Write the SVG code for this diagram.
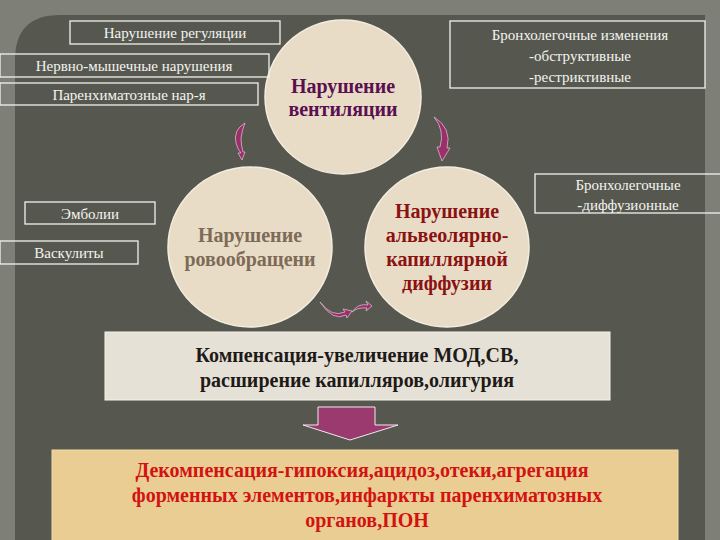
<svg xmlns="http://www.w3.org/2000/svg" width="720" height="540" viewBox="0 0 720 540">
<style>
.lb{fill:none;stroke:#f2f2ee;stroke-width:1.3}
.t{font-family:"Liberation Serif",serif;font-size:15px;fill:#f4f4f0;text-anchor:middle}
.el{fill:#e8dcc6;stroke:#f3ede0;stroke-width:1.5}
.b{font-family:"Liberation Serif",serif;font-weight:bold;font-size:20px;text-anchor:middle}
.ca{fill:#9a2f6a;stroke:#d9b8cc;stroke-width:0.8}
</style>
<rect width="720" height="540" fill="#7e8077"/>
<path d="M15 540 V60 Q15 15 60 15 H705 V540 Z" fill="#56584f"/>
<g id="vent"><ellipse class="el" cx="343" cy="97" rx="78" ry="77"/>
<text class="b" x="343" y="93" fill="#5a1050">Нарушение</text><text class="b" x="343" y="116" fill="#5a1050">вентиляции</text></g>
<g id="circ"><ellipse class="el" cx="250" cy="247" rx="82" ry="80"/>
<text class="b" x="250" y="242" fill="#7d6b58">Нарушение</text><text class="b" x="250" y="266" fill="#7d6b58">ровообращени</text></g>
<g id="diff"><ellipse class="el" cx="447" cy="247" rx="82" ry="80"/>
<text class="b" x="447" y="218" fill="#8b1212">Нарушение</text><text class="b" x="447" y="242" fill="#8b1212">альвеолярно-</text><text class="b" x="447" y="266" fill="#8b1212">капиллярной</text><text class="b" x="447" y="290" fill="#8b1212">диффузии</text></g>
<g id="l1"><rect class="lb" x="70" y="21" width="210" height="23"/><text class="t" x="175" y="38">Нарушение регуляции</text></g>
<g id="l2"><rect class="lb" x="0" y="54" width="269" height="23"/><text class="t" x="134" y="71">Нервно-мышечные нарушения</text></g>
<g id="l3"><rect class="lb" x="0" y="83" width="258" height="22"/><text class="t" x="129" y="100">Паренхиматозные нар-я</text></g>
<g id="r1"><rect class="lb" x="450" y="21" width="255" height="67"/><text class="t" x="580" y="40">Бронхолегочные изменения</text><text class="t" x="580" y="61">-обструктивные</text><text class="t" x="580" y="82">-рестриктивные</text></g>
<g id="r2"><rect class="lb" x="535" y="174" width="190" height="39"/><text class="t" x="628" y="190">Бронхолегочные</text><text class="t" x="628" y="210">-диффузионные</text></g>
<g id="e1"><rect class="lb" x="25" y="202" width="130" height="22"/><text class="t" x="90" y="219">Эмболии</text></g>
<g id="e2"><rect class="lb" x="0" y="241" width="138" height="23"/><text class="t" x="69" y="258">Васкулиты</text></g>
<g id="comp"><rect x="105" y="332" width="505" height="68" fill="#e6e1d6" stroke="#f5f3ee"/>
<text class="b" x="357" y="362" font-size="19" fill="#1e1a18">Компенсация-увеличение МОД,СВ,</text>
<text class="b" x="357" y="387" font-size="19" fill="#1e1a18">расширение капилляров,олигурия</text></g>
<g id="decomp"><rect x="52" y="450" width="626" height="92" fill="#e9cd92" stroke="#f0dcaa"/>
<text class="b" x="362" y="477" font-size="19" fill="#d31212">Декомпенсация-гипоксия,ацидоз,отеки,агрегация</text>
<text class="b" x="367" y="502" font-size="19" fill="#d31212">форменных элементов,инфаркты паренхиматозных</text>
<text class="b" x="367" y="527" font-size="19" fill="#d31212">органов,ПОН</text></g>
<g id="connectors">
<path class="ca" d="M245 123 Q233 130 236 143 Q238 150 241 153 L238 153 L242 160 L245 152 L243 152 Q241 145 241 138 Q242 130 245 123 Z"/>
<path class="ca" d="M434 117 Q452 128 447 148 L450 148 L442 161 L437 147 L440 147 Q445 130 434 117 Z"/>
<path class="ca" d="M320 302 Q332 318 345 312 L343 309 L352 311 L347 318 L346 315 Q333 322 320 302 Z"/>
<path class="ca" d="M352 312 Q358 303 368 305 L366 301 L372 306 L366 311 L367 308 Q358 307 352 312 Z"/>
<path d="M318 407 H375 V425 H398 L350 440 L303 425 H318 Z" fill="#9a3a6e" stroke="#f0e8ee" stroke-width="1"/>
</g>
</svg>
